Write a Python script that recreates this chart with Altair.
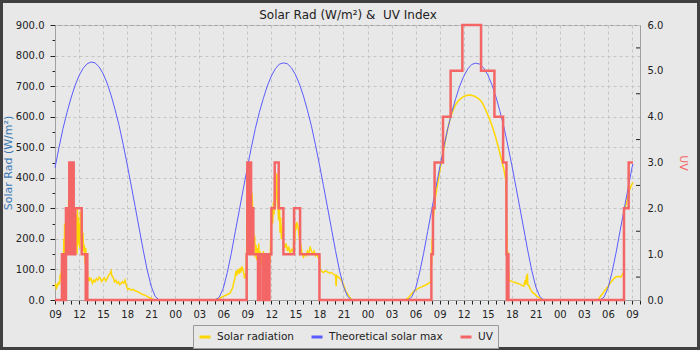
import altair as alt
import pandas as pd

TITLE = "Solar Rad (W/m²) &\u00a0 UV Index"
LEFT_TITLE = "Solar Rad (W/m²)"
RIGHT_TITLE = "UV"
SERIES = ["Solar radiation", "Theoretical solar max", "UV"]
COLORS = ["#ffd700", "#5b5bff", "#f46666"]

X_DOMAIN = [0, 73]          # hours after 09:00 of the first day
SOLAR_DOMAIN = [0, 900]
UV_DOMAIN = [0, 6]
UV_MINOR_TICKS = [0.5, 1.5, 2.5, 3.5, 4.5, 5.5]

# ---------------- Solar radiation (W/m2) ----------------
SOLAR_D1 = [
    ("09:00", 45), ("09:05", 50), ("09:10", 38), ("09:15", 42), ("09:20", 55), ("09:25", 48),
    ("09:30", 60), ("09:35", 52), ("09:40", 85), ("09:45", 70), ("09:50", 110), ("09:55", 90),
    ("10:00", 150), ("10:03", 90), ("10:06", 200), ("10:09", 120), ("10:12", 250), ("10:15", 150),
    ("10:18", 170), ("10:21", 120), ("10:24", 240), ("10:27", 160), ("10:30", 300), ("10:33", 180),
    ("10:36", 260), ("10:39", 200), ("10:42", 330), ("10:45", 250), ("10:48", 380), ("10:51", 280),
    ("10:54", 400), ("10:57", 300), ("11:00", 440), ("11:03", 330), ("11:06", 420), ("11:09", 250),
    ("11:12", 350), ("11:15", 220), ("11:18", 320), ("11:21", 180), ("11:24", 260), ("11:27", 200),
    ("11:30", 300), ("11:33", 160), ("11:36", 280), ("11:39", 170), ("11:42", 240), ("11:45", 150),
    ("11:48", 300), ("11:51", 200), ("11:54", 270), ("11:57", 180), ("12:00", 250), ("12:05", 170),
    ("12:10", 290), ("12:15", 200), ("12:20", 260), ("12:25", 150), ("12:30", 220), ("12:35", 160),
    ("12:40", 180), ("12:45", 120), ("12:50", 170), ("12:55", 110), ("13:00", 130), ("13:05", 70),
    ("13:10", 60), ("13:15", 75), ("13:20", 65), ("13:30", 70), ("13:40", 55), ("13:50", 65),
    ("14:00", 60), ("14:10", 70), ("14:20", 65), ("14:30", 75), ("14:40", 70), ("14:50", 60),
    ("15:00", 68), ("15:10", 72), ("15:20", 62), ("15:30", 70), ("15:40", 80), ("15:50", 85),
    ("16:00", 95), ("16:05", 80), ("16:15", 75), ("16:25", 60), ("16:35", 65), ("16:45", 55),
    ("16:55", 60), ("17:05", 50), ("17:15", 55), ("17:25", 60), ("17:35", 55), ("17:45", 65),
    ("17:55", 45), ("18:05", 35), ("18:15", 38), ("18:30", 32), ("18:45", 35), ("19:00", 30),
    ("19:15", 28), ("19:30", 25), ("19:45", 20), ("20:00", 18), ("20:15", 15), ("20:30", 12),
    ("20:45", 8), ("21:00", 5), ("21:15", 2), ("21:30", 0),
]
SOLAR_D2 = [
    ("04:55", 0), ("05:30", 5), ("06:00", 12), ("06:30", 18), ("06:50", 22), ("07:10", 40),
    ("07:20", 60), ("07:27", 70), ("07:35", 95), ("07:40", 80), ("07:50", 100), ("08:00", 85),
    ("08:05", 105), ("08:10", 90), ("08:20", 110), ("08:30", 95), ("08:40", 70), ("08:50", 90),
    ("08:55", 160), ("09:00", 420), ("09:03", 300), ("09:06", 450), ("09:09", 280), ("09:12", 400),
    ("09:15", 320), ("09:18", 440), ("09:21", 270), ("09:25", 380), ("09:30", 330), ("09:35", 350),
    ("09:40", 300), ("09:45", 230), ("09:50", 180), ("09:55", 210), ("10:00", 140), ("10:05", 180),
    ("10:10", 130), ("10:15", 170), ("10:20", 120), ("10:25", 185), ("10:30", 140), ("10:35", 160),
    ("10:40", 110), ("10:47", 150), ("10:55", 100), ("11:00", 160), ("11:05", 120), ("11:10", 140),
    ("11:15", 110), ("11:20", 150), ("11:25", 120), ("11:30", 135), ("11:40", 110), ("11:50", 125),
    ("11:55", 200), ("12:00", 240), ("12:05", 300), ("12:10", 250), ("12:15", 320), ("12:20", 280),
    ("12:25", 360), ("12:30", 300), ("12:35", 380), ("12:40", 415), ("12:45", 330), ("12:50", 300),
    ("12:55", 260), ("13:00", 320), ("13:05", 220), ("13:10", 270), ("13:15", 200), ("13:20", 240),
    ("13:30", 190), ("13:40", 170), ("13:50", 185), ("14:00", 160), ("14:10", 175), ("14:20", 150),
    ("14:30", 165), ("14:40", 160), ("14:45", 170), ("14:50", 220), ("14:55", 190), ("15:00", 250),
    ("15:05", 230), ("15:10", 255), ("15:20", 240), ("15:30", 200), ("15:40", 180), ("15:50", 150),
    ("16:00", 140), ("16:10", 150), ("16:20", 145), ("16:30", 160), ("16:40", 150), ("16:50", 175),
    ("17:00", 160), ("17:10", 150), ("17:20", 160), ("17:30", 145), ("17:40", 150), ("17:50", 140),
    ("18:00", 135), ("18:05", 100), ("18:15", 95), ("18:30", 90), ("18:45", 95), ("19:00", 92),
    ("19:15", 88), ("19:30", 90), ("19:45", 85), ("20:00", 80), ("20:05", 45), ("20:08", 80),
    ("20:20", 75), ("20:35", 70), ("20:50", 60), ("21:05", 45), ("21:15", 30), ("21:30", 20),
    ("21:45", 10), ("22:00", 0),
]
SOLAR_D3 = [
    ("04:40", 0), ("05:00", 5), ("05:20", 15), ("05:40", 25), ("06:00", 33), ("06:20", 38),
    ("06:40", 42), ("07:00", 46), ("07:20", 50), ("07:40", 55), ("07:52", 60), ("07:55", 150),
    ("08:00", 120), ("08:03", 200), ("08:06", 170), ("08:10", 250), ("08:15", 280), ("08:20", 300),
    ("08:25", 320), ("08:30", 340), ("08:45", 380), ("09:00", 420), ("09:20", 470), ("09:40", 515),
    ("10:00", 560), ("10:20", 595), ("10:40", 620), ("11:00", 640), ("11:20", 652), ("11:40", 660),
    ("12:00", 666), ("12:20", 669), ("12:40", 671), ("13:00", 670), ("13:20", 667), ("13:40", 662),
    ("14:00", 656), ("14:20", 645), ("14:45", 622), ("15:10", 596), ("15:35", 567), ("16:00", 532),
    ("16:25", 491), ("16:45", 455), ("17:02", 425), ("17:12", 400), ("17:15", 393), ("17:18", 330),
    ("17:20", 295), ("17:23", 230), ("17:25", 185), ("17:27", 120), ("17:30", 160), ("17:33", 70),
    ("17:36", 100), ("17:40", 65), ("18:00", 60), ("18:20", 58), ("18:40", 55), ("19:00", 52),
    ("19:15", 48), ("19:30", 45), ("19:40", 65), ("19:45", 50), ("19:50", 80), ("19:55", 55),
    ("19:57", 87), ("20:00", 50), ("20:10", 45), ("20:20", 35), ("20:35", 25), ("20:50", 20),
    ("21:10", 12), ("21:30", 6), ("21:50", 0),
]
SOLAR_D4 = [
    ("04:45", 0), ("05:00", 10), ("05:22", 22), ("05:40", 33), ("06:00", 44), ("06:25", 60),
    ("06:45", 70), ("07:02", 76), ("07:20", 77), ("07:40", 76), ("07:52", 87), ("07:59", 90),
    ("08:01", 300), ("08:10", 305), ("08:17", 315), ("08:30", 340), ("08:42", 360), ("08:55", 375),
    ("09:07", 385),
]

# ---------------- Theoretical solar max (W/m2), half-hourly ----------------
BLUE_T = ["05:00", "05:30", "06:00", "06:30", "07:00", "07:30", "08:00", "08:30", "09:00",
          "09:30", "10:00", "10:30", "11:00", "11:30", "12:00", "12:30", "13:00", "13:30",
          "14:00", "14:30", "15:00", "15:30", "16:00", "16:30", "17:00", "17:30", "18:00",
          "18:30", "19:00", "19:30", "20:00", "20:30", "21:00", "21:30", "22:00"]
BLUE_D1 = [433, 499, 561, 614, 661, 702, 734, 758, 773, 779, 776, 763, 741, 710, 670, 623,
           571, 510, 445, 376, 306, 235, 164, 99, 45, 12, 0]          # from 09:00
BLUE_D2 = [0, 9, 38, 90, 153, 224, 294, 364, 433, 499, 561, 614, 660, 701, 733, 757, 772, 776,
           773, 760, 738, 707, 668, 621, 569, 508, 443, 374, 304, 233, 162, 97, 44, 12, 0]
BLUE_D3 = [0, 9, 38, 90, 153, 224, 294, 364, 432, 498, 560, 613, 659, 700, 732, 756, 771, 775,
           772, 759, 737, 706, 667, 620, 568, 507, 442, 373, 303, 232, 161, 96, 43, 11, 0]
BLUE_D4 = [0, 9, 38, 90, 153, 224, 294, 364, 433]                      # to 09:00
BLUE_D4_END = ("09:07", 445)

# ---------------- UV index (change points, step) ----------------
UV_D1 = [
    ("09:00", 0), ("09:52", 1), ("09:56", 0), ("10:00", 1), ("10:04", 0), ("10:08", 1),
    ("10:12", 0), ("10:16", 1), ("10:19", 0), ("10:22", 2), ("10:26", 1), ("10:30", 2),
    ("10:34", 1), ("10:38", 2), ("10:42", 1), ("10:47", 3), ("10:51", 1), ("10:55", 3),
    ("10:59", 2), ("11:03", 3), ("11:07", 1), ("11:11", 3), ("11:15", 2), ("11:18", 3),
    ("11:20", 1), ("11:24", 2), ("11:28", 1), ("11:32", 2), ("12:20", 1), ("12:50", 0),
    ("12:53", 1), ("12:56", 0), ("12:59", 1), ("13:02", 0), ("13:05", 0),
]
UV_D2 = [
    ("08:55", 1), ("09:00", 3), ("09:04", 1), ("09:08", 3), ("09:12", 2), ("09:16", 3),
    ("09:20", 1), ("09:24", 3), ("09:28", 1), ("09:32", 2), ("09:36", 1), ("09:40", 2),
    ("09:45", 1), ("10:20", 0), ("10:23", 1), ("10:26", 0), ("10:29", 1), ("10:32", 0),
    ("10:35", 1), ("10:55", 0), ("10:58", 1), ("11:01", 0), ("11:04", 1), ("11:07", 0),
    ("11:10", 1), ("11:13", 0), ("11:16", 1), ("11:19", 0), ("11:22", 1), ("11:25", 0),
    ("11:28", 1), ("11:31", 0), ("11:34", 1), ("11:37", 0), ("11:40", 1), ("11:43", 0),
    ("11:46", 1), ("12:00", 2), ("12:25", 3), ("12:55", 2), ("13:30", 1), ("14:50", 2),
    ("15:35", 1), ("18:00", 0),
]
UV_D3 = [
    ("07:58", 1), ("08:10", 2), ("08:22", 3), ("09:25", 4), ("10:22", 5), ("11:50", 6),
    ("14:10", 5), ("15:50", 4), ("16:55", 3), ("17:20", 1), ("17:23", 0), ("17:26", 1),
    ("17:29", 0), ("17:32", 1), ("17:35", 0),
]
UV_D4 = [("08:00", 2), ("08:35", 3), ("09:07", 3)]


def hours_after_start(day, hhmm):
    hh, mm = hhmm.split(":")
    return (day - 1) * 24 + int(hh) + int(mm) / 60.0 - 9


def frame(series, days):
    rows = []
    for day, pts in days:
        for hhmm, val in pts:
            rows.append({"h": hours_after_start(day, hhmm), "v": val, "series": series})
    return pd.DataFrame(rows)


solar_df = frame(SERIES[0], [(1, SOLAR_D1), (2, SOLAR_D2), (3, SOLAR_D3), (4, SOLAR_D4)])
blue_df = frame(SERIES[1], [
    (1, list(zip(BLUE_T[8:], BLUE_D1))),
    (2, list(zip(BLUE_T, BLUE_D2))),
    (3, list(zip(BLUE_T, BLUE_D3))),
    (4, list(zip(BLUE_T[:9], BLUE_D4)) + [BLUE_D4_END]),
])
uv_df = frame(SERIES[2], [(1, UV_D1), (2, UV_D2), (3, UV_D3), (4, UV_D4)])
uv_minor_df = pd.DataFrame({"v": UV_MINOR_TICKS})

FONT = "DejaVu Sans"
W, H = 585, 275

color_scale = alt.Scale(domain=SERIES, range=COLORS)
legend = alt.Legend(
    orient="none", legendX=138, legendY=300, direction="horizontal", title=None,
    symbolType="stroke", symbolSize=121, symbolStrokeWidth=3, labelFont=FONT,
    labelFontSize=10.5, labelColor="#222222", labelOffset=5, columnPadding=11,
    padding=5, strokeColor="#999999", fillColor="#e8e8e8", cornerRadius=0,
)
color_enc = alt.Color("series:N", scale=color_scale, legend=legend)

x_axis = alt.Axis(
    values=list(range(0, 74)),
    labelExpr="datum.value % 3 == 0 ? (((datum.value + 9) % 24) < 10 ? '0' : '') + toString((datum.value + 9) % 24) : ''",
    gridOpacity={"condition": {"test": "datum.value % 3 != 0", "value": 0}, "value": 1},
    tickSize=4, labelPadding=5, labelOverlap=False, labelFlush=False, title=None,
)
x_enc = alt.X("h:Q", scale=alt.Scale(domain=X_DOMAIN, nice=False, zero=False), axis=x_axis)

left_axis = alt.Axis(
    orient="left", values=list(range(0, 901, 50)),
    labelExpr="datum.value % 100 == 0 ? format(datum.value, '.1f') : ''",
    tickSize={"condition": {"test": "datum.value % 100 != 0", "value": 3}, "value": 5},
    gridOpacity={"condition": {"test": "datum.value % 100 != 0", "value": 0}, "value": 1},
    labelPadding=6, labelOverlap=False, title=LEFT_TITLE, titleColor="#3a78b4",
    titleFont=FONT, titleFontSize=11, titleFontWeight="normal", titleAngle=-90,
    titleX=-47, titleY=H / 2, titleAlign="center", titleBaseline="middle",
)
y_left = alt.Y("v:Q", scale=alt.Scale(domain=SOLAR_DOMAIN, nice=False), axis=left_axis)

right_axis = alt.Axis(
    orient="right", values=[0, 1, 2, 3, 4, 5, 6], format=".1f", tickSize=0,
    labelPadding=7, grid=False, labelOverlap=False, title=RIGHT_TITLE, titleColor="#f46666",
    titleFont=FONT, titleFontSize=11, titleFontWeight="normal", titleAngle=90,
    titleX=42, titleY=H / 2, titleAlign="center", titleBaseline="middle",
)
y_right = alt.Y("v:Q", scale=alt.Scale(domain=UV_DOMAIN, nice=False), axis=right_axis)

one = pd.DataFrame({"k": [0]})
border = alt.Chart(one).mark_rect(fillOpacity=0, stroke="#404040", strokeWidth=3).encode(
    x=alt.value(-53.5), x2=alt.value(643.5), y=alt.value(-23.5), y2=alt.value(323.5)
)
title = alt.Chart(one).mark_text(
    text=TITLE, font=FONT, fontSize=12, color="#222222", align="center", baseline="alphabetic"
).encode(x=alt.value(293), y=alt.value(-5.7))

solar = alt.Chart(solar_df).mark_line(strokeWidth=1.5).encode(
    x=x_enc, y=y_left, color=color_enc, order="h:Q")
theo = alt.Chart(blue_df).mark_line(strokeWidth=1).encode(
    x=x_enc, y=y_left, color=color_enc, order="h:Q")
uv = alt.Chart(uv_df).mark_line(strokeWidth=2.5, interpolate="step-after").encode(
    x=x_enc, y=y_right, color=color_enc, order="h:Q")
uv_minor = alt.Chart(uv_minor_df).mark_rule(color="#222222").encode(
    y=alt.Y("v:Q", scale=alt.Scale(domain=UV_DOMAIN, nice=False), axis=right_axis),
    x=alt.value(W - 4), x2=alt.value(W),
)

left_group = alt.layer(solar, theo)
right_group = alt.layer(uv, uv_minor)

chart = alt.layer(border, title, left_group, right_group).resolve_scale(y="independent").properties(
    width=W, height=H,
    padding={"left": 55, "top": 25, "right": 60, "bottom": 50},
    autosize=alt.AutoSizeParams(type="none"),
).configure(
    background="#e8e8e8", font=FONT,
).configure_view(
    stroke="#a0a0a0", strokeWidth=1,
).configure_axis(
    labelFont=FONT, labelFontSize=10, labelColor="#222222", tickColor="#222222",
    domainColor="#a0a0a0", gridColor="#c4c4c4", gridDash=[3, 3], tickWidth=1,
)

chart.save("out.html", embed_options={"renderer": "svg", "actions": False})
